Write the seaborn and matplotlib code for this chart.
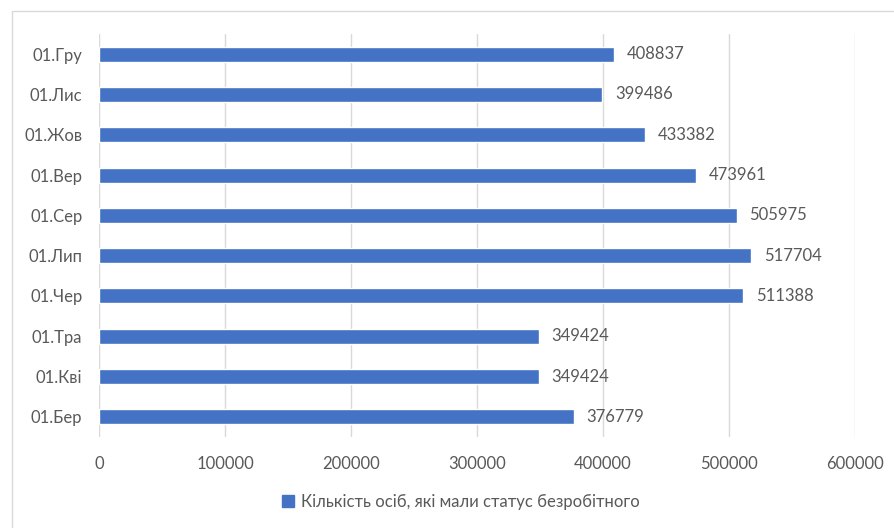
import matplotlib
matplotlib.use("Agg")
import matplotlib.pyplot as plt
import seaborn as sns
import pandas as pd
from matplotlib.patches import Rectangle, Patch

categories = ["01.Гру", "01.Лис", "01.Жов", "01.Вер", "01.Сер", "01.Лип", "01.Чер", "01.Тра", "01.Кві", "01.Бер"]
values = [408837, 399486, 433382, 473961, 505975, 517704, 511388, 349424, 349424, 376779]
x_ticks = [0, 100000, 200000, 300000, 400000, 500000, 600000]
legend_label = "Кількість осіб, які мали статус безробітного"

sns.set_theme(style="white")
plt.rcParams["font.family"] = ["Lato", "DejaVu Sans"]

TXT = "#595959"
BLUE = "#4472C4"
FS = 12

df = pd.DataFrame({"cat": categories, "val": values})

fig = plt.figure(figsize=(8.95, 5.28), dpi=100)
ax = fig.add_axes([99/895, 1-437/528, (855-99)/895, (437-34)/528])

sns.barplot(data=df, x="val", y="cat", orient="h", color=BLUE, width=0.37,
            saturation=1, ax=ax, zorder=3)

ax.set_xlim(0, 600000)
ax.set_ylim(9.5, -0.5)
ax.set_xticks(x_ticks)
ax.set_xticklabels([str(t) for t in x_ticks], color=TXT, fontsize=FS)
ax.tick_params(axis="y", labelsize=FS, labelcolor=TXT, length=0, pad=12)
ax.tick_params(axis="x", length=0, pad=14)
ax.set_xlabel("")
ax.set_ylabel("")
ax.grid(axis="x", color="#D9D9D9", linewidth=1, zorder=0)
ax.grid(axis="y", visible=False)
for s in ax.spines.values():
    s.set_visible(False)

for i, v in enumerate(values):
    ax.annotate(str(v), xy=(v, i), xytext=(9, 0), textcoords="offset points",
                va="center", ha="left", fontsize=FS, color=TXT)

fig.patches.append(Rectangle((12/895, -0.02), 1.0, 1-11/528+0.02, transform=fig.transFigure,
                             fill=False, edgecolor="#D9D9D9", linewidth=1))

handles = [Patch(facecolor=BLUE, edgecolor=BLUE, label=legend_label)]
fig.legend(handles=handles, loc="center", bbox_to_anchor=(461/895, 1-502/528),
           frameon=False, fontsize=FS, labelcolor=TXT, handlelength=0.7,
           handleheight=0.7, handletextpad=0.4)

fig.savefig("out.png", dpi=100)
